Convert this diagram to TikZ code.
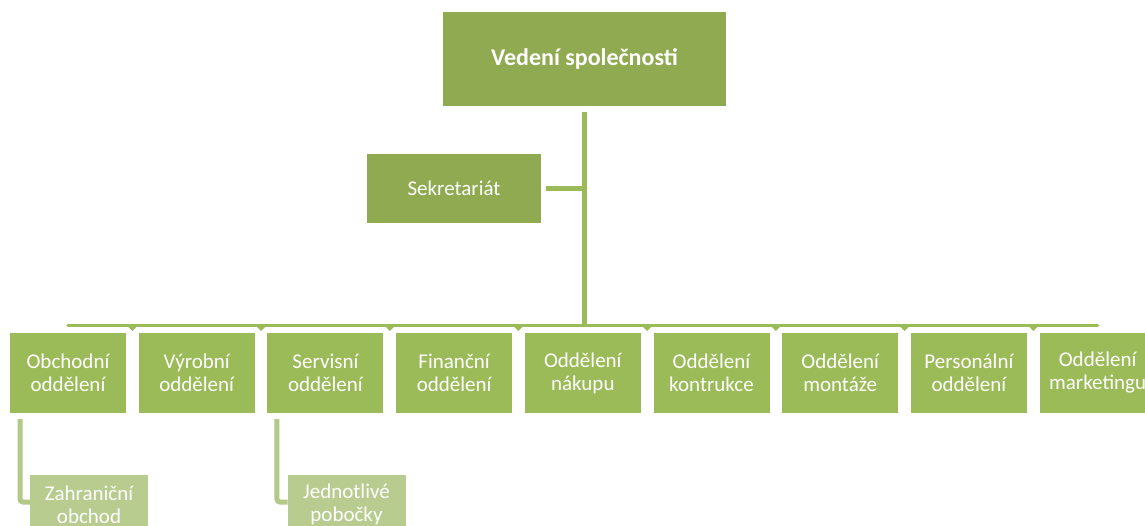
\documentclass[tikz,border=0pt]{standalone}
\usepackage{fontspec}
\setmainfont{Carlito}
\usetikzlibrary{calc}
\definecolor{headgreen}{RGB}{143,170,81}
\definecolor{deptgreen}{RGB}{155,187,89}
\definecolor{subgreen}{RGB}{183,204,142}
\definecolor{sublinegreen}{RGB}{178,201,136}
\tikzset{
  headbox/.style={fill=headgreen, draw=none, inner sep=0pt, outer sep=0pt, text=white, align=center},
  deptbox/.style={fill=deptgreen, draw=none, inner sep=0pt, outer sep=0pt, text=white, align=center,
    minimum width=116pt, minimum height=80pt, font=\fontsize{21}{23}\selectfont},
  subbox/.style={fill=subgreen, draw=none, inner sep=0pt, outer sep=0pt, text=white, align=center,
    minimum width=118pt, minimum height=59pt, font=\fontsize{21}{23}\selectfont},
  trunk/.style={draw=deptgreen, line width=5pt},
  busline/.style={draw=deptgreen, line width=3.5pt, line cap=round},
  notch/.style={fill=deptgreen, draw=none},
  subline/.style={draw=sublinegreen, line width=5pt, rounded corners=3pt}
}
\begin{document}
\begin{tikzpicture}[x=1pt, y=-1pt]
  \clip (0,0) rectangle (1145,526);
  \fill[white] (0,0) rectangle (1145,526);

  % management and secretariat
  \node[headbox, minimum width=283pt, minimum height=94pt, font=\bfseries\fontsize{24}{28}\selectfont]
    (top) at (584.5,59) {Vedení společnosti};
  \node[headbox, minimum width=174pt, minimum height=69pt, font=\fontsize{21}{23}\selectfont]
    (sekr) at (454,188.5) {Sekretariát};

  % departments
  \foreach \i/\txt in {1/{Obchodní\\oddělení}, 2/{Výrobní\\oddělení}, 3/{Servisní\\oddělení},
      4/{Finanční\\oddělení}, 5/{Oddělení\\nákupu}, 6/{Oddělení\\kontrukce},
      7/{Oddělení\\montáže}, 8/{Personální\\oddělení}, 9/{Oddělení\\marketingu}}
    \node[deptbox] (c\i) at ({68+(\i-1)*128.7},373) {\txt};

  % sub-units
  \node[subbox] (s1) at (89,504.5) {Zahraniční\\obchod};
  \node[subbox] (s3) at (346.5,504.5) {Jednotlivé\\pobočky};

  % connectors
  \coordinate (hub) at (584.5,325.5);
  \draw[trunk] ([yshift=-6pt]top.south) -- (hub);
  \draw[trunk] ([xshift=5pt]sekr.east) -- (sekr.east -| hub);
  \draw[busline] (c1.north |- hub) -- (c9.north |- hub);
  \foreach \i [evaluate=\i as \j using int(\i+1)] in {1,...,8}
    \fill[notch] ($(c\i.north east)!0.5!(c\j.north west)+(-4,-6)$) -- ++(8,0) -- ++(-4,4) -- cycle;

  \draw[subline] ([xshift=10pt,yshift=-6pt]c1.south west) |- ([yshift=2.5pt]s1.west);
  \draw[subline] ([xshift=9.5pt,yshift=-6pt]c3.south west) |- ([yshift=2.5pt]s3.west);
\end{tikzpicture}
\end{document}
